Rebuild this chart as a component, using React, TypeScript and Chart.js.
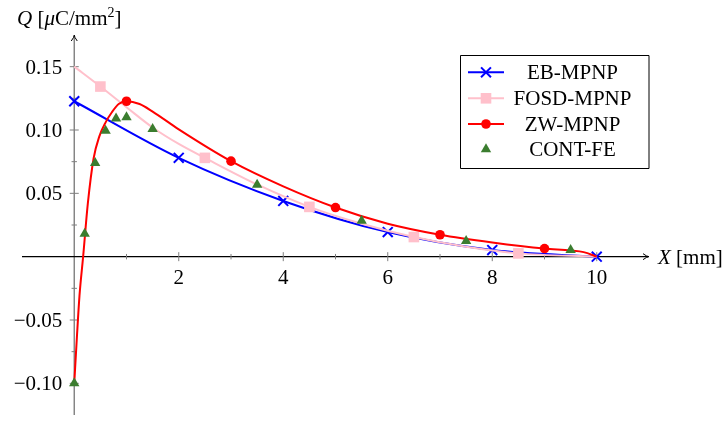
import { useEffect, useRef } from 'react';
import { Chart, registerables } from 'chart.js';
import { drawPoint } from 'chart.js/helpers';

Chart.register(...registerables);

// EB-MPNP solution
const ebX = [0, 2, 4, 6, 8, 10];
const ebQ = [0.1227, 0.078, 0.044, 0.0194, 0.0052, 0];

// FOSD-MPNP solution (markers every 2 mm, starting at 0.5)
const fosdX = [0, 0.5, 1.0, 1.5, 2.0, 2.5, 3.5, 4.5, 5.5, 6.5, 7.5, 8.5, 10];
const fosdQ = [0.15, 0.1343, 0.118, 0.102, 0.089, 0.078, 0.057, 0.0393, 0.026, 0.0155, 0.0078, 0.0026, 0];
const fosdMarked = [0.5, 2.5, 4.5, 6.5, 8.5];

// ZW-MPNP solution (markers at odd positions)
const zwX = [0, 0.05, 0.1, 0.17, 0.26, 0.37, 0.48, 0.6, 0.72, 0.85, 1.0, 1.25, 1.5, 2.0, 3.0, 4.0, 5.0, 6.0, 7.0, 8.0, 9.0, 9.5, 9.75, 10];
const zwQ = [-0.1, -0.064, -0.031, 0.0, 0.042, 0.0775, 0.095, 0.106, 0.114, 0.1205, 0.1227, 0.1205, 0.1145, 0.1005, 0.0754, 0.0555, 0.0388, 0.026, 0.0173, 0.0112, 0.0064, 0.0049, 0.0036, 0];
const zwMarked = [1, 3, 5, 7, 9];

// CONT-FE reference values
const feX = [0, 0.2, 0.4, 0.6, 0.8, 1.0, 1.5, 3.5, 5.5, 7.5, 9.5];
const feQ = [-0.1, 0.018, 0.074, 0.0995, 0.109, 0.11, 0.1008, 0.0568, 0.0284, 0.0124, 0.0052];

// Axis ticks
const xMajor = [2, 4, 6, 8, 10];
const xMinor = [1, 3, 5, 7, 9];
const yMajor = [0.15, 0.1, 0.05, -0.05, -0.1];
const yMinor = [0.125, 0.075, 0.025, -0.025, -0.075];
const yLabels = ['0.15', '0.10', '0.05', '\u22120.05', '\u22120.10'];

const seriesNames = ['EB-MPNP', 'FOSD-MPNP', 'ZW-MPNP', 'CONT-FE'];

const BLUE = '#0000ff';
const PINK = '#ffc0cb';
const RED = '#ff0000';
const GREEN = '#3b7d2f';

const SERIF = "'Liberation Serif', 'Times New Roman', serif";
const FS = 21;

type Part = { t: string; italic?: boolean; size?: number; dy?: number };

function drawRich(ctx: CanvasRenderingContext2D, parts: Part[], x: number, y: number) {
  let cx = x;
  for (const p of parts) {
    const size = p.size ?? FS;
    ctx.font = `${p.italic ? 'italic ' : ''}${size}px ${SERIF}`;
    ctx.fillText(p.t, cx, y + (p.dy ?? 0));
    cx += ctx.measureText(p.t).width;
  }
}

function arrow(ctx: CanvasRenderingContext2D, x: number, y: number, dx: number, dy: number) {
  // small latex-style arrow head pointing along (dx, dy)
  const len = 6;
  const half = 3;
  const px = -dy, py = dx;
  ctx.beginPath();
  ctx.moveTo(x - dx * len + px * half, y - dy * len + py * half);
  ctx.quadraticCurveTo(x - dx * 2, y - dy * 2, x, y);
  ctx.quadraticCurveTo(x - dx * 2, y - dy * 2, x - dx * len - px * half, y - dy * len - py * half);
  ctx.stroke();
}

const middleAxes = {
  id: 'middleAxes',
  beforeDatasetsDraw(chart: any) {
    const { ctx, chartArea: a, scales } = chart;
    const xs = scales.x, ys = scales.y;
    const x0 = xs.getPixelForValue(0);
    const y0 = ys.getPixelForValue(0);
    ctx.save();

    // y axis
    ctx.strokeStyle = '#7f7f7f';
    ctx.lineWidth = 1.4;
    ctx.beginPath();
    ctx.moveTo(x0, a.bottom);
    ctx.lineTo(x0, a.top + 1);
    ctx.stroke();

    // x axis
    ctx.strokeStyle = '#000';
    ctx.lineWidth = 1.2;
    ctx.beginPath();
    ctx.moveTo(a.left, y0);
    ctx.lineTo(a.right - 1, y0);
    ctx.stroke();

    ctx.lineWidth = 1;
    ctx.strokeStyle = '#000';
    arrow(ctx, a.right, y0, 1, 0);
    arrow(ctx, x0, a.top, 0, -1);

    // ticks
    ctx.strokeStyle = '#7f7f7f';
    ctx.lineWidth = 1;
    const tick = (x1: number, y1: number, x2: number, y2: number) => {
      ctx.beginPath();
      ctx.moveTo(x1, y1);
      ctx.lineTo(x2, y2);
      ctx.stroke();
    };
    for (const v of xMajor) { const px = xs.getPixelForValue(v); tick(px, y0 - 4.5, px, y0 + 4.5); }
    for (const v of xMinor) { const px = xs.getPixelForValue(v); tick(px, y0 - 2.7, px, y0 + 2.7); }
    for (const v of yMajor) { const py = ys.getPixelForValue(v); tick(x0 - 4.5, py, x0 + 4.5, py); }
    for (const v of yMinor) { const py = ys.getPixelForValue(v); tick(x0 - 2.7, py, x0 + 2.7, py); }

    // tick labels
    ctx.fillStyle = '#000';
    ctx.font = `${FS}px ${SERIF}`;
    ctx.textBaseline = 'alphabetic';
    ctx.textAlign = 'center';
    for (const v of xMajor) {
      ctx.fillText(String(v), xs.getPixelForValue(v), y0 + 27);
    }
    ctx.textAlign = 'right';
    yMajor.forEach((v, i) => {
      ctx.fillText(yLabels[i], x0 - 12, ys.getPixelForValue(v) + 7);
    });

    // axis titles
    ctx.textAlign = 'left';
    drawRich(ctx, [
      { t: 'Q', italic: true },
      { t: ' [' },
      { t: '\u03bc', italic: true },
      { t: 'C/mm' },
      { t: '2', size: 14, dy: -8 },
      { t: ']' },
    ], 17, 25);
    drawRich(ctx, [
      { t: 'X', italic: true },
      { t: ' [mm]' },
    ], 658, y0 + 7);

    ctx.restore();
  },
  afterDraw(chart: any) {
    const { ctx } = chart;
    ctx.save();
    ctx.strokeStyle = '#000';
    ctx.lineWidth = 1;
    ctx.fillStyle = '#fff';
    ctx.beginPath();
    ctx.rect(460.5, 55.5, 188.5, 113);
    ctx.fill();
    ctx.stroke();
    const rows = [72.3, 98.3, 124, 149.3];
    chart.data.datasets.forEach((ds: any, i: number) => {
      const cy = rows[i];
      if (ds.showLine) {
        ctx.strokeStyle = ds.borderColor;
        ctx.lineWidth = ds.borderWidth;
        ctx.beginPath();
        ctx.moveTo(468, cy);
        ctx.lineTo(504, cy);
        ctx.stroke();
      }
      ctx.strokeStyle = ds.pointBorderColor;
      ctx.fillStyle = ds.pointBackgroundColor;
      drawPoint(ctx, {
        pointStyle: ds.pointStyle,
        radius: ds.legendRadius,
        rotation: 0,
        borderWidth: ds.pointBorderWidth,
      }, 486, cy);
      ctx.fillStyle = '#000';
      ctx.font = `${FS}px ${SERIF}`;
      ctx.textAlign = 'center';
      ctx.textBaseline = 'alphabetic';
      ctx.fillText(seriesNames[i], 572.5, cy + 7);
    });
    ctx.restore();
  },
};

function pts(xv: number[], yv: number[]) {
  return xv.map((x, i) => ({ x, y: yv[i] }));
}

export default function App() {
  const ref = useRef<HTMLCanvasElement>(null);

  useEffect(() => {
    if (!ref.current) return;
    const chart = new Chart(ref.current, {
      type: 'scatter',
      data: {
        datasets: [
          {
            label: seriesNames[0],
            data: pts(ebX, ebQ),
            showLine: true,
            borderColor: BLUE,
            borderWidth: 2,
            cubicInterpolationMode: 'monotone',
            pointStyle: 'crossRot',
            pointRadius: 7,
            pointBorderWidth: 2,
            pointBorderColor: BLUE,
            pointBackgroundColor: BLUE,
            legendRadius: 7,
            order: 4,
            clip: false,
          } as any,
          {
            label: seriesNames[1],
            data: pts(fosdX, fosdQ),
            showLine: true,
            borderColor: PINK,
            borderWidth: 2,
            cubicInterpolationMode: 'monotone',
            pointStyle: 'rect',
            pointRadius: fosdX.map((x) => (fosdMarked.includes(x) ? 7.5 : 0)),
            pointBorderWidth: 0,
            pointBorderColor: PINK,
            pointBackgroundColor: PINK,
            legendRadius: 7.5,
            order: 3,
            clip: false,
          } as any,
          {
            label: seriesNames[2],
            data: pts(zwX, zwQ),
            showLine: true,
            borderColor: RED,
            borderWidth: 2,
            cubicInterpolationMode: 'monotone',
            pointStyle: 'circle',
            pointRadius: zwX.map((x) => (zwMarked.includes(x) ? 4.8 : 0)),
            pointBorderWidth: 0,
            pointBorderColor: RED,
            pointBackgroundColor: RED,
            legendRadius: 4.8,
            order: 2,
            clip: false,
          } as any,
          {
            label: seriesNames[3],
            data: pts(feX, feQ),
            showLine: false,
            pointStyle: 'triangle',
            pointRadius: 6,
            pointBorderWidth: 0,
            pointBorderColor: GREEN,
            pointBackgroundColor: GREEN,
            legendRadius: 6,
            order: 1,
            clip: false,
          } as any,
        ],
      },
      options: {
        responsive: false,
        animation: false,
        events: [],
        layout: { padding: { left: 22, right: 77, top: 35, bottom: 3 } },
        plugins: { legend: { display: false }, tooltip: { enabled: false } },
        scales: {
          x: { type: 'linear', min: -1, max: 11, display: false },
          y: { type: 'linear', min: -0.125, max: 0.175, display: false },
        },
      },
      plugins: [middleAxes],
    });
    return () => chart.destroy();
  }, []);

  return (
    <div style={{ position: 'fixed', left: 0, top: 0, width: 726, height: 424, background: '#fff' }}>
      <canvas ref={ref} width={726} height={424} style={{ display: 'block' }} />
    </div>
  );
}
